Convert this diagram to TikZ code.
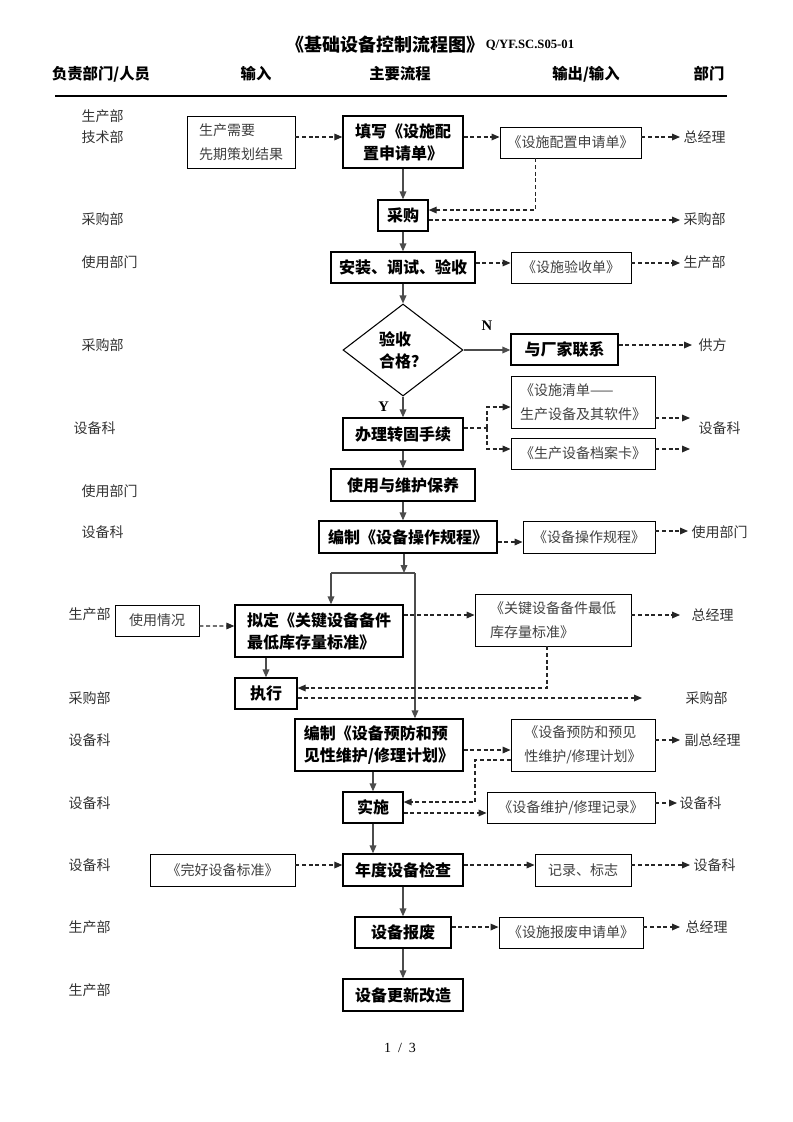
\documentclass[tikz,border=0pt]{standalone}
\usepackage{fontspec}
\setmainfont{Noto Sans CJK SC}
\newfontfamily\lat{Liberation Serif}
\usetikzlibrary{arrows.meta,shapes.geometric,calc}
\begin{document}
\begin{tikzpicture}[x=0.75pt,y=-0.75pt,
  sz/.style 2 args={minimum width=#1*0.75pt, minimum height=#2*0.75pt},
  mainbox/.style={draw=black, line width=1pt, inner sep=2pt, align=center,
    font=\fontsize{12}{16.5}\selectfont\bfseries},
  docbox/.style={draw=black, line width=0.7pt, inner sep=2pt, align=center,
    text=black!75, font=\fontsize{10.5}{18}\selectfont},
  lab/.style={anchor=west, inner sep=1pt, text=black!80, font=\fontsize{10.5}{12}\selectfont},
  head/.style={inner sep=1pt, font=\fontsize{11.5}{13}\selectfont\bfseries},
  tip/.style={-{Triangle[length=6pt,width=5pt]}},
  flow/.style={draw=black!70, line width=1pt, tip},
  plain/.style={draw=black!70, line width=1pt},
  dsh/.style={draw=black!85, line width=0.85pt, dash pattern=on 3pt off 2pt},
  dsharrow/.style={dsh, tip},
]
\useasboundingbox[fill=white] (0,0) rectangle (793,1122);

% title and header
\node[inner sep=0pt, font=\fontsize{13.5}{16}\selectfont\bfseries] (title) at (385,45) {《基础设备控制流程图》};
\node[anchor=west, inner sep=1pt, font=\lat\fontsize{9.5}{11}\selectfont\bfseries] (code) at (title.east) {Q/YF.SC.S05-01};
\node[head] (h1) at (101,74) {负责部门/人员};
\node[head] (h2) at (256,74) {输入};
\node[head] (h3) at (400,74) {主要流程};
\node[head] (h4) at (586,74) {输出/输入};
\node[head] (h5) at (709,74) {部门};
\draw[line width=0.9pt] (55,96) -- (727,96);

% left labels
\node[lab] (l1) at (80,116) {生产部};
\node[lab] (l2) at (80,137) {技术部};
\node[lab] (l3) at (80,219) {采购部};
\node[lab] (l4) at (80,262) {使用部门};
\node[lab] (l5) at (80,345) {采购部};
\node[lab] (l6) at (72,428) {设备科};
\node[lab] (l7) at (80,491) {使用部门};
\node[lab] (l8) at (80,532) {设备科};
\node[lab] (l9) at (67,614) {生产部};
\node[lab] (l10) at (67,698) {采购部};
\node[lab] (l11) at (67,740) {设备科};
\node[lab] (l12) at (67,803) {设备科};
\node[lab] (l13) at (67,865) {设备科};
\node[lab] (l14) at (67,927) {生产部};
\node[lab] (l15) at (67,990) {生产部};

% right labels
\node[lab] (r1) at (682,137) {总经理};
\node[lab] (r2) at (682,219) {采购部};
\node[lab] (r3) at (682,262) {生产部};
\node[lab] (r4) at (697,345) {供方};
\node[lab] (r5) at (697,428) {设备科};
\node[lab] (r6) at (690,532) {使用部门};
\node[lab] (r7) at (690,615) {总经理};
\node[lab] (r8) at (684,698) {采购部};
\node[lab] (r9) at (683,740) {副总经理};
\node[lab] (r10) at (678,803) {设备科};
\node[lab] (r11) at (692,865) {设备科};
\node[lab] (r12) at (684,927) {总经理};

% main flow
\node[mainbox, sz={120}{52}] (fill) at (403,142) {填写《设施配\\置申请单》};
\node[mainbox, sz={50}{31}] (buy) at (403,215.5) {采购};
\node[mainbox, sz={144}{31}] (inst) at (403,267.5) {安装、调试、验收};
\node[draw=black, line width=0.8pt, diamond, sz={120}{92}, inner sep=0pt, align=left,
  font=\fontsize{12}{16.5}\selectfont\bfseries] (dia) at (403,350) {验收\\合格？};
\node[mainbox, sz={107}{31}] (vendor) at (564.5,349.5) {与厂家联系};
\node[mainbox, sz={120}{32}] (trans) at (403,434) {办理转固手续};
\node[mainbox, sz={144}{32}] (use) at (403,485) {使用与维护保养};
\node[mainbox, sz={178}{32}] (ops) at (408,537) {编制《设备操作规程》};
\node[mainbox, sz={168}{52}, align=left] (std) at (319,631) {拟定《关键设备备件\\最低库存量标准》};
\node[mainbox, sz={62}{31}] (exec) at (266,693.5) {执行};
\node[mainbox, sz={168}{52}, align=left] (plan) at (379,745) {编制《设备预防和预\\见性维护/修理计划》};
\node[mainbox, sz={60}{31}] (impl) at (373,807.5) {实施};
\node[mainbox, sz={120}{32}] (annual) at (403,870) {年度设备检查};
\node[mainbox, sz={96}{31}] (scrap) at (403,932.5) {设备报废};
\node[mainbox, sz={120}{32}] (renew) at (403,995) {设备更新改造};

% documents / inputs
\node[docbox, sz={108}{52}, align=left] (in1) at (241,142) {生产需要\\先期策划结果};
\node[docbox, sz={141}{31}] (out1) at (570.5,142.5) {《设施配置申请单》};
\node[docbox, sz={120}{31}] (out2) at (571,267.5) {《设施验收单》};
\node[docbox, sz={144}{52}, align=left] (list) at (583,402) {《设施清单——\\生产设备及其软件》};
\node[docbox, sz={144}{31}] (card) at (583,453.5) {《生产设备档案卡》};
\node[docbox, sz={132}{32}] (opsdoc) at (589,537) {《设备操作规程》};
\node[docbox, sz={84}{31}] (usage) at (157,620.5) {使用情况};
\node[docbox, sz={156}{52}, align=left] (stddoc) at (553,620) {《关键设备备件最低\\库存量标准》};
\node[docbox, sz={144}{52}, align=left] (plandoc) at (583,745) {《设备预防和预见\\性维护/修理计划》};
\node[docbox, sz={168}{31}] (rec) at (571,807.5) {《设备维护/修理记录》};
\node[docbox, sz={145}{32}] (good) at (222.5,870) {《完好设备标准》};
\node[docbox, sz={96}{32}] (mark) at (583,870) {记录、标志};
\node[docbox, sz={144}{31}] (scrapdoc) at (571,932.5) {《设施报废申请单》};

% helper coordinates
\coordinate (jm) at (404,573);
\coordinate (jl) at (331,573);
\coordinate (jr) at (415,573);
\coordinate (br) at (487,428);
\coordinate (pk) at (475,760);
\coordinate (e1) at (680,137);
\coordinate (e2) at (680,220);
\coordinate (e3) at (680,263);
\coordinate (e4) at (692,345);
\coordinate (e5a) at (690,418);
\coordinate (e5b) at (690,449);
\coordinate (e6) at (688,531);
\coordinate (e7) at (680,615);
\coordinate (e8) at (642,698);
\coordinate (e9) at (680,740);
\coordinate (e10) at (677,803);
\coordinate (e11) at (690,865);
\coordinate (e12) at (680,927);

% solid flow
\draw[flow] (fill.south) -- (buy.north);
\draw[flow] (buy.south) -- (inst.north);
\draw[flow] (inst.south) -- (dia.north);
\draw[flow] (dia.south) -- (trans.north)
  node[midway, left=10pt, inner sep=0pt, font=\lat\fontsize{11}{12}\selectfont\bfseries] (ylab) {Y};
\draw[flow] (dia.east) -- (dia.east -| vendor.west)
  node[midway, above=14pt, inner sep=0pt, font=\lat\fontsize{11}{12}\selectfont\bfseries] (nlab) {N};
\draw[flow] (trans.south) -- (use.north);
\draw[flow] (use.south) -- (use.south |- ops.north);
\draw[flow] (ops.south -| jm) -- (jm);
\draw[plain] (jl) -- (jr);
\draw[flow] (jl) -- (jl |- std.north);
\draw[flow] (jr) -- (jr |- plan.north);
\draw[flow] (exec.north |- std.south) -- (exec.north);
\draw[flow] (impl.north |- plan.south) -- (impl.north);
\draw[flow] (impl.south) -- (impl.south |- annual.north);
\draw[flow] (annual.south) -- (scrap.north);
\draw[flow] (scrap.south) -- (renew.north);

% dashed connectors
\draw[dsharrow] ([yshift=3.75pt]in1.east) -- ([yshift=3.75pt]fill.west);
\draw[dsharrow] ([yshift=3.75pt]fill.east) -- ([yshift=3.75pt]fill.east -| out1.west);
\draw[dsharrow] (out1.east |- e1) -- (e1);
\draw[dsharrow] ([xshift=-26.25pt]out1.south) |- ([yshift=4.1pt]buy.east);
\draw[dsharrow] (buy.east |- e2) -- (e2);
\draw[dsharrow] ([yshift=3.4pt]inst.east) -- ([yshift=3.4pt]out2.west);
\draw[dsharrow] (out2.east |- e3) -- (e3);
\draw[dsharrow] (vendor.east |- e4) -- (e4);
\draw[dsh] (trans.east |- br) -- (br);
\draw[dsharrow] (br) |- ([yshift=-3.75pt]list.west);
\draw[dsharrow] (br) |- ([yshift=3.4pt]card.west);
\draw[dsharrow] (list.east |- e5a) -- (e5a);
\draw[dsharrow] (card.east |- e5b) -- (e5b);
\draw[dsharrow] ([yshift=-3.75pt]ops.east) -- ([yshift=-3.75pt]opsdoc.west);
\draw[dsharrow] (opsdoc.east |- e6) -- (e6);
\draw[dsharrow] ([yshift=-4.1pt]usage.east) -- ([yshift=3.75pt]std.west);
\draw[dsharrow] ([yshift=12pt]std.east) -- ([yshift=3.75pt]stddoc.west);
\draw[dsharrow] (stddoc.east |- e7) -- (e7);
\draw[dsharrow] ([xshift=-4.5pt]stddoc.south) |- ([yshift=4.1pt]exec.east);
\draw[dsharrow] (exec.east |- e8) -- (e8);
\draw[dsharrow] ([yshift=-3.75pt]plan.east) -- ([yshift=-3.75pt]plandoc.west);
\draw[dsharrow] (plandoc.east |- e9) -- (e9);
\draw[dsharrow] (plandoc.west |- pk) -- (pk) |- ([yshift=4.1pt]impl.east);
\draw[dsharrow] ([yshift=-4.1pt]impl.east) -- ([yshift=-4.1pt]rec.west);
\draw[dsharrow] (rec.east |- e10) -- (e10);
\draw[dsharrow] ([yshift=3.75pt]good.east) -- ([yshift=3.75pt]annual.west);
\draw[dsharrow] ([yshift=3.75pt]annual.east) -- ([yshift=3.75pt]mark.west);
\draw[dsharrow] (mark.east |- e11) -- (e11);
\draw[dsharrow] ([yshift=4.1pt]scrap.east) -- ([yshift=4.1pt]scrapdoc.west);
\draw[dsharrow] (scrapdoc.east |- e12) -- (e12);

% footer
\node[inner sep=0pt, font=\lat\fontsize{10.5}{12}\selectfont] (page) at (400,1048) {1\ \ /\ \ 3};
\end{tikzpicture}
\end{document}
